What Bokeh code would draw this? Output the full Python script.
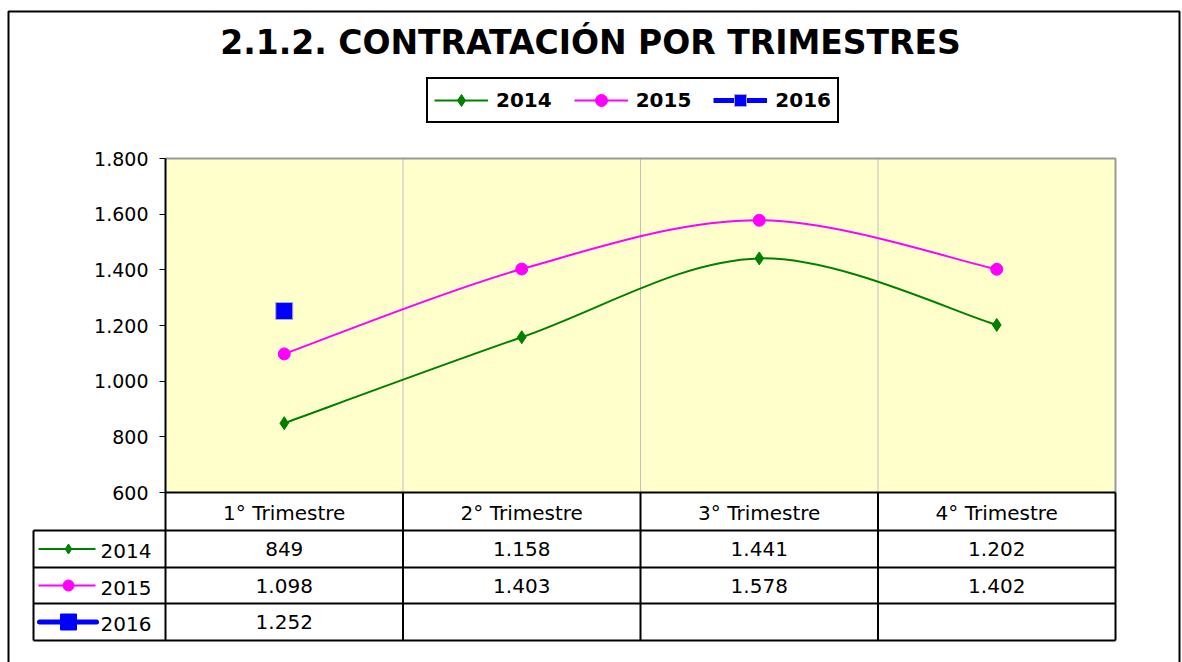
from bokeh.plotting import figure
from bokeh.models import Range1d, FixedTicker, Legend, LegendItem
from bokeh.embed import file_html
from bokeh.resources import INLINE
from bokeh.core.properties import value

# ---------------- data ----------------
title_text = "2.1.2. CONTRATACIÓN POR TRIMESTRES"
categories = ["1° Trimestre", "2° Trimestre", "3° Trimestre", "4° Trimestre"]
series_names = ["2014", "2015", "2016"]
v2014 = [849, 1158, 1441, 1202]
v2015 = [1098, 1403, 1578, 1402]
v2016 = [1252]
y_ticks = [600, 800, 1000, 1200, 1400, 1600, 1800]

colors = {"2014": "#008000", "2015": "#FF00FF", "2016": "#0000FF"}


def fmt(v):
    return f"{v:,}".replace(",", ".")


# ---------------- layout (page pixels) ----------------
W, H = 1182, 662
OX, OY = 0, 0
PL, PR, PT, PB = 165, 1115, 158, 492          # plot area
TL = 33                                       # table left edge
ROWS = [492, 530, 567, 603, 640]              # table horizontal lines
FONT = "DejaVu Sans"

n = len(categories)
cw = (PR - PL) / n
Y0, Y1 = y_ticks[0], y_ticks[-1]
k = (Y1 - Y0) / (PB - PT)

p = figure(width=W, height=H, output_backend="svg", toolbar_location=None,
           min_border=0,
           x_range=Range1d((OX - PL) / cw, (OX + W - PL) / cw),
           y_range=Range1d(Y0 - (OY + H - PB) * k, Y1 + (PT - OY) * k))
p.extra_x_ranges = {"px": Range1d(OX, OX + W)}
p.extra_y_ranges = {"px": Range1d(OY + H, OY)}
p.outline_line_color = None
p.xgrid.visible = False
p.ygrid.visible = False
p.background_fill_color = "white"
p.border_fill_color = "white"

xs = [i + 0.5 for i in range(n)]

# outer border
p.line([8, 8, 1179, 1179], [H + 20, 11, 11, H + 20],
       x_range_name="px", y_range_name="px", line_color="black", line_width=2)

# plot area
p.quad(left=0, right=n, bottom=Y0, top=Y1, fill_color="#FFFFCC", line_color=None)
p.segment(x0=list(range(1, n)), y0=[Y0] * (n - 1), x1=list(range(1, n)), y1=[Y1] * (n - 1),
          line_color="#C0C0C0", line_width=1)
p.line([0, n, n], [Y1, Y1, Y0], line_color="#999999", line_width=2)

# title
p.text(x=[590], y=[42], text=[title_text], x_range_name="px", y_range_name="px",
       text_font=value(FONT), text_font_style="bold", text_font_size="33px",
       text_align="center", text_baseline="middle", text_color="black")


def smooth(xv, yv):
    """Bezier control points (Catmull-Rom style smoothing, as in the original chart)."""
    m = len(xv)
    out = dict(x0=[], y0=[], x1=[], y1=[], cx0=[], cy0=[], cx1=[], cy1=[])
    for i in range(m - 1):
        a, b = max(i - 1, 0), min(i + 2, m - 1)
        out["x0"].append(xv[i]); out["y0"].append(yv[i])
        out["x1"].append(xv[i + 1]); out["y1"].append(yv[i + 1])
        out["cx0"].append(xv[i] + (xv[i + 1] - xv[a]) / 6)
        out["cy0"].append(yv[i] + (yv[i + 1] - yv[a]) / 6)
        out["cx1"].append(xv[i + 1] - (xv[b] - xv[i]) / 6)
        out["cy1"].append(yv[i + 1] - (yv[b] - yv[i]) / 6)
    return out


# series
r14l = p.bezier(**smooth(xs, v2014), line_color=colors["2014"], line_width=2)
r14m = p.scatter(xs, v2014, marker="diamond", size=13, fill_color=colors["2014"],
                 line_color=colors["2014"])
r15l = p.bezier(**smooth(xs, v2015), line_color=colors["2015"], line_width=2)
r15m = p.scatter(xs, v2015, marker="circle", size=12, fill_color=colors["2015"],
                 line_color=colors["2015"])
x16 = xs[:len(v2016)]
r16l = p.line(x16, v2016, line_color=colors["2016"], line_width=5)
r16m = p.scatter(x16, v2016, marker="square", size=17, fill_color=colors["2016"],
                 line_color="#A8A8D8", line_width=1)

legend = Legend(items=[LegendItem(label=series_names[0], renderers=[r14l, r14m]),
                       LegendItem(label=series_names[1], renderers=[r15l, r15m]),
                       LegendItem(label=series_names[2], renderers=[r16l, r16m])],
                orientation="horizontal", location=(426 - OX, OY + H - 123),
                border_line_color="black", border_line_width=2, border_line_alpha=1,
                background_fill_color="white", background_fill_alpha=1,
                label_text_font=FONT, label_text_font_style="bold",
                label_text_font_size="20px", label_text_color="black",
                glyph_width=54, glyph_height=30, label_standoff=8, spacing=22,
                padding=6, margin=0)
p.add_layout(legend, "center")

# axes
p.yaxis.fixed_location = 0
p.yaxis.bounds = (Y0, Y1)
p.yaxis.ticker = FixedTicker(ticks=y_ticks)
p.yaxis.major_label_overrides = {t: fmt(t) for t in y_ticks}
p.yaxis.axis_line_color = "black"
p.yaxis.axis_line_width = 2
p.yaxis.major_tick_out = 6
p.yaxis.major_tick_in = 0
p.yaxis.major_tick_line_color = "black"
p.yaxis.minor_tick_line_color = None
p.yaxis.major_label_standoff = 11
p.yaxis.major_label_text_font = FONT
p.yaxis.major_label_text_font_size = "19px"
p.yaxis.major_label_text_color = "black"

p.xaxis.fixed_location = Y0
p.xaxis.bounds = (0, n)
p.xaxis.ticker = FixedTicker(ticks=xs)
p.xaxis.major_label_overrides = {x: c for x, c in zip(xs, categories)}
p.xaxis.axis_line_color = "black"
p.xaxis.axis_line_width = 2
p.xaxis.major_tick_out = 0
p.xaxis.major_tick_in = 0
p.xaxis.minor_tick_line_color = None
p.xaxis.major_label_standoff = 8
p.xaxis.major_label_text_font = FONT
p.xaxis.major_label_text_font_size = "20px"
p.xaxis.major_label_text_color = "black"

# data table grid
hy = ROWS[1:]
p.segment(x0=[TL] * len(hy), y0=hy, x1=[PR] * len(hy), y1=hy,
          x_range_name="px", y_range_name="px", line_color="black", line_width=2)
p.segment(x0=[TL], y0=[ROWS[1]], x1=[TL], y1=[ROWS[-1]],
          x_range_name="px", y_range_name="px", line_color="black", line_width=2)
bx = list(range(0, n + 1))
p.segment(x0=bx, y0=[ROWS[0]] * len(bx), x1=bx, y1=[ROWS[-1]] * len(bx),
          y_range_name="px", line_color="black", line_width=2)

# table values
row_c = [(ROWS[i + 1] + ROWS[i + 2]) / 2 for i in range(3)]
all_vals = [v2014, v2015, v2016]
tx, ty, tt = [], [], []
for r, vals in enumerate(all_vals):
    for i, v in enumerate(vals):
        tx.append(xs[i])
        ty.append(row_c[r])
        tt.append(fmt(v))
p.text(x=tx, y=ty, text=tt, y_range_name="px", text_font=value(FONT),
       text_font_size="20px", text_align="center", text_baseline="middle",
       text_color="black")

# table row keys
kx0, kx1, kxm = 38, 95, 68
p.segment(x0=[kx0] * 2, y0=row_c[:2], x1=[kx1] * 2, y1=row_c[:2],
          x_range_name="px", y_range_name="px",
          line_color=[colors["2014"], colors["2015"]], line_width=2)
p.segment(x0=[kx0 + 1], y0=[row_c[2]], x1=[kx1 + 1], y1=[row_c[2]],
          x_range_name="px", y_range_name="px", line_color=colors["2016"],
          line_width=5, line_cap="round")
p.scatter(x=[kxm], y=[row_c[0]], marker="diamond", size=10, color=colors["2014"],
          x_range_name="px", y_range_name="px")
p.scatter(x=[kxm], y=[row_c[1]], marker="circle", size=11, color=colors["2015"],
          x_range_name="px", y_range_name="px")
p.scatter(x=[kxm], y=[row_c[2]], marker="square", size=16, color=colors["2016"],
          x_range_name="px", y_range_name="px")
p.text(x=[100] * 3, y=[c + 2 for c in row_c], text=series_names, x_range_name="px",
       y_range_name="px", text_font=value(FONT), text_font_size="20px",
       text_align="left", text_baseline="middle", text_color="black")

open("out.html", "w").write(file_html(p, INLINE))
